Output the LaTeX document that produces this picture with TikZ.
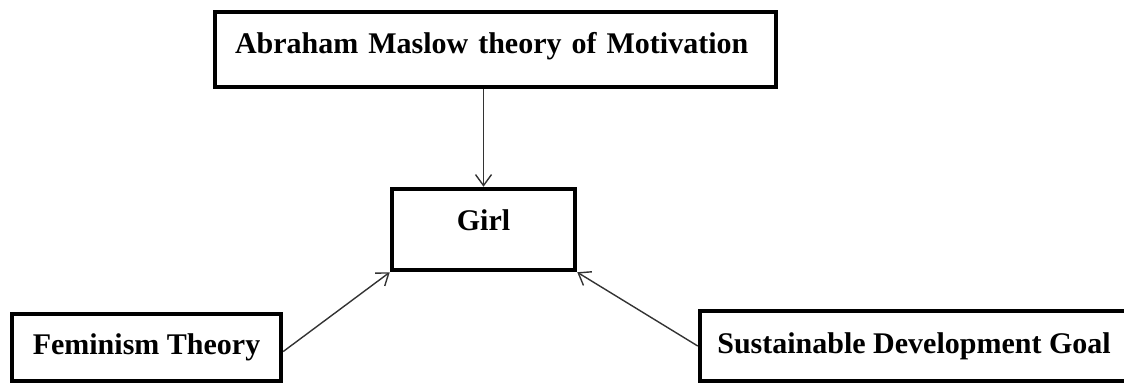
\documentclass[tikz,border=0pt]{standalone}
\usepackage{fontspec}
\setmainfont{Liberation Serif}
\usetikzlibrary{arrows.meta,positioning}

\begin{document}
\begin{tikzpicture}[
        x=1pt, y=-1pt,
        font=\fontsize{30}{36}\selectfont\bfseries,
        >={Straight Barb[length=11pt,width=16pt]},
        box/.style={draw=black, line width=4.5pt, fill=white, inner sep=0pt,
                    align=center, text height=20pt},
        link/.style={->, draw=black!80, line width=1.4pt},
    ]
        \useasboundingbox (0,0) rectangle (1124,386);
        % Theory boxes.
        \node[box, text width=521pt, align=left, inner xsep=20pt,
              minimum height=75pt, text depth=13pt] (maslow) at (495.5,49.5)
            {Abraham Maslow theory of Motivation};
        \node[box, minimum width=183pt, minimum height=81pt, text depth=19pt]
            (girl) at (483.5,229.5) {Girl};
        \node[box, minimum width=269pt, minimum height=67pt, text depth=7pt]
            (feminism) at (146.5,347.5) {Feminism Theory};
        \node[box, minimum width=428pt, minimum height=70pt, text depth=6pt]
            (sdg) at (914,346) {Sustainable Development Goal};
        % Arrows into the girl box.
        \draw[link] (girl.north |- maslow.south) -- (girl.north);
        \draw[link] ([yshift=-4pt]feminism.east) -- (girl.south west);
        \draw[link] (sdg.west) -- (girl.south east);
    \end{tikzpicture}
\end{document}
